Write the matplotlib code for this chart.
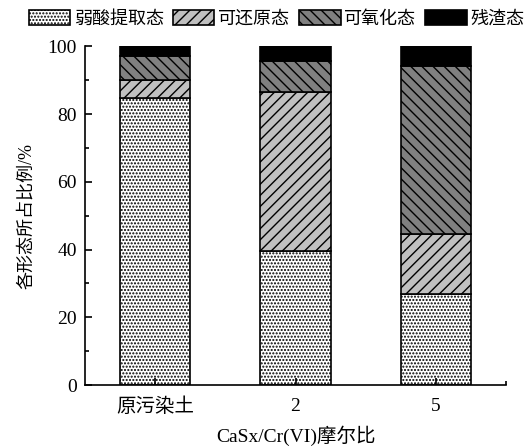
import matplotlib.pyplot as plt
import numpy as np

plt.rcParams['font.family'] = ['Liberation Serif', 'Noto Sans CJK SC']
plt.rcParams['font.size'] = 14
plt.rcParams['hatch.linewidth'] = 1.0

# fraction of Cr in each chemical form (%)
groups = ["原污染土", "2", "5"]
acid_soluble = [84.6, 39.5, 27.0]
reducible = [5.5, 47.0, 17.5]
oxidizable = [6.9, 9.3, 49.7]
residual = [3.0, 4.2, 5.8]

names = ["弱酸提取态", "可还原态", "可氧化态", "残渣态"]
fills = ["white", "#c0c0c0", "#808080", "black"]
hatches = [".....", "///", "\\\\\\", ""]

fig = plt.figure(figsize=(5.31, 4.48), dpi=100)
ax = fig.add_axes([0.160, 0.1406, 0.793, 0.756])

x = np.arange(len(groups))
bottom = np.zeros(len(groups))
for vals, name, fc, h in zip([acid_soluble, reducible, oxidizable, residual],
                             names, fills, hatches):
    ax.bar(x, vals, 0.5, bottom=bottom, color=fc, edgecolor="black",
           hatch=h, linewidth=1.2, label=name)
    bottom += np.array(vals)

ax.set_xlim(-0.5, 2.5)
ax.set_ylim(0, 100)
ax.set_xticks(x)
ax.set_xticklabels(groups)
ax.set_yticks(range(0, 101, 20))
ax.set_yticks(range(10, 100, 20), minor=True)
ax.set_xticks([2.5], minor=True)
ax.tick_params(direction="in", length=5, width=1.2)
ax.tick_params(which="minor", direction="in", length=3, width=1.2)
ax.tick_params(axis="x", pad=9)
ax.tick_params(axis="y", pad=6)
for s in ["top", "right"]:
    ax.spines[s].set_visible(False)
for s in ["left", "bottom"]:
    ax.spines[s].set_linewidth(1.2)

ax.set_xlabel("CaSx/Cr(VI)摩尔比", labelpad=7)
ax.set_ylabel("各形态所占比例/%", fontsize=13, labelpad=9)

ax.legend(loc="lower center", bbox_to_anchor=(0.455, 1.025), ncol=4,
          fontsize=13, frameon=False, handlelength=2.3, handleheight=0.9,
          handletextpad=0.2, columnspacing=0.5, borderaxespad=0.15)

fig.savefig("out.png", dpi=100)
